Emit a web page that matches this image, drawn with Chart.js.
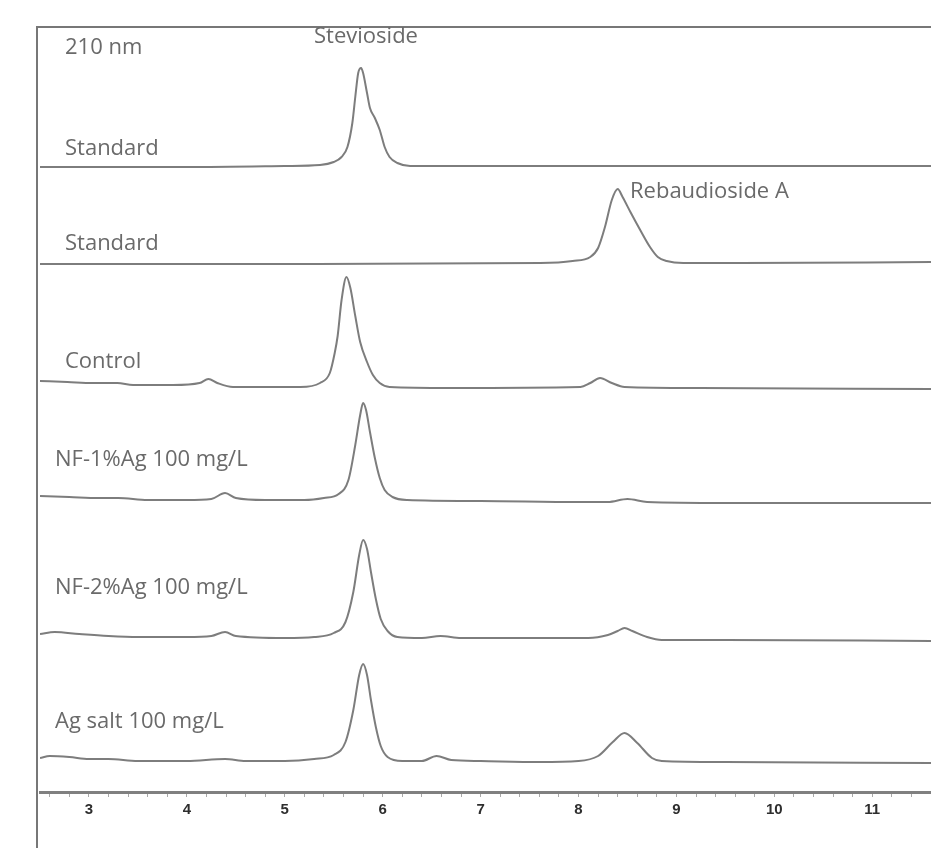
<!DOCTYPE html>
<html>
<head>
<meta charset="utf-8">
<script src="https://cdn.jsdelivr.net/npm/chart.js@4.4.1/dist/chart.umd.min.js"></script>
<style>
  html, body { margin: 0; padding: 0; background: #fff; }
  #wrap { width: 931px; height: 848px; position: relative; }
</style>
</head>
<body>
<div id="wrap"><canvas id="hplc"></canvas></div>
<script>
// HPLC traces at 210 nm, retention time in min, signal stacked by offsets

const traceNames = ["Standard", "Standard", "Control", "NF-1%Ag 100 mg/L", "NF-2%Ag 100 mg/L", "Ag salt 100 mg/L"];
const traceOffsets = [625, 528, 404, 292, 155, 32];

const steviosideTime = [2.5, 4.0, 5.0, 5.36, 5.5, 5.58, 5.64, 5.69, 5.72, 5.75, 5.78, 5.80, 5.84, 5.87, 5.92, 5.97, 6.02, 6.07, 6.15, 6.28, 6.5, 8.0, 11.6];
const steviosideSignal = [0, 0, 1, 2, 5, 10, 20, 44, 70, 94, 99, 94, 74, 59, 49, 37, 20, 10, 4, 1, 1, 1, 1];

const rebATime = [2.5, 5.0, 7.61, 7.94, 8.12, 8.20, 8.27, 8.34, 8.40, 8.45, 8.53, 8.63, 8.73, 8.81, 8.90, 9.07, 9.65, 11.6];
const rebASignal = [0, 0, 1, 3, 7, 16, 37, 64, 75, 67, 52, 34, 17, 7, 3, 1, 1, 2];

const controlTime = [2.5, 2.78, 3.04, 3.29, 3.45, 3.86, 4.13, 4.22, 4.31, 4.47, 5.16, 5.36, 5.46, 5.51, 5.54, 5.58, 5.63, 5.67, 5.72, 5.77, 5.84, 5.90, 5.97, 6.07, 6.69, 8.02, 8.12, 8.22, 8.34, 8.47, 9.24, 11.6];
const controlSignal = [7, 6, 5, 5, 3, 3, 5, 9, 5, 1, 1, 5, 15, 35, 52, 88, 111, 100, 72, 46, 26, 13, 5, 1, 0, 1, 5, 10, 5, 1, 0, -1];

const nf1Time = [2.5, 2.8, 3.1, 3.3, 3.6, 4.0, 4.25, 4.39, 4.5, 4.8, 5.2, 5.4, 5.55, 5.65, 5.72, 5.77, 5.80, 5.83, 5.87, 5.92, 5.97, 6.02, 6.1, 6.25, 7.0, 8.0, 8.3, 8.5, 8.7, 9.5, 11.6];
const nf1Signal = [4, 3, 2, 2, 0, 0, 1, 7, 2, 0, 0, 2, 6, 20, 55, 85, 97, 90, 68, 42, 22, 10, 3, 0, -1, -2, -2, 1, -2, -3, -3];

const nf2Time = [2.5, 2.65, 2.9, 3.2, 3.5, 4.0, 4.25, 4.39, 4.5, 5.0, 5.3, 5.5, 5.62, 5.7, 5.76, 5.80, 5.84, 5.88, 5.93, 5.98, 6.05, 6.15, 6.4, 6.59, 6.8, 7.5, 8.1, 8.3, 8.4, 8.47, 8.55, 8.7, 8.85, 9.5, 11.6];
const nf2Signal = [3, 5, 3, 1, 0, 0, 1, 5, 1, -1, 0, 4, 15, 45, 82, 97, 88, 65, 38, 18, 6, 0, -1, 1, -1, -1, -1, 2, 6, 9, 6, 0, -3, -3, -4];

const agSaltTime = [2.5, 2.6, 2.8, 3.0, 3.2, 3.5, 4.0, 4.39, 4.6, 5.0, 5.3, 5.5, 5.62, 5.7, 5.76, 5.80, 5.84, 5.88, 5.93, 5.98, 6.05, 6.2, 6.4, 6.55, 6.7, 7.0, 7.6, 8.0, 8.2, 8.35, 8.47, 8.6, 8.75, 8.85, 9.5, 11.6];
const agSaltSignal = [2, 4, 3, 1, 1, -1, -1, 1, -1, -1, 1, 5, 18, 50, 85, 96, 85, 60, 33, 14, 3, -1, -1, 4, 0, -1, -2, -1, 4, 18, 27, 17, 2, -1, -2, -3];

const traceTimes = [steviosideTime, rebATime, controlTime, nf1Time, nf2Time, agSaltTime];
const traceSignals = [steviosideSignal, rebASignal, controlSignal, nf1Signal, nf2Signal, agSaltSignal];

const xTicksMajor = [3, 4, 5, 6, 7, 8, 9, 10, 11];

const lineColor = "#7d7d7d";
const textColor = "#6a6a6a";

const datasets = traceSignals.map((sig, i) => ({
  label: traceNames[i],
  data: sig.map((v, k) => ({ x: traceTimes[i][k], y: v + traceOffsets[i] })),
  borderColor: lineColor,
  borderWidth: 2,
  pointRadius: 0,
  fill: false,
  cubicInterpolationMode: "monotone"
}));

// text labels placed in pixel layout
const annotations = [
  { text: "210 nm", x: 65, y: 48, align: "left" },
  { text: "Stevioside", x: 366, y: 37, align: "center" },
  { text: "Standard", x: 65, y: 149, align: "left" },
  { text: "Rebaudioside A", x: 630, y: 192, align: "left" },
  { text: "Standard", x: 65, y: 244, align: "left" },
  { text: "Control", x: 65, y: 362, align: "left" },
  { text: "NF-1%Ag 100 mg/L", x: 55, y: 460, align: "left" },
  { text: "NF-2%Ag 100 mg/L", x: 55, y: 588, align: "left" },
  { text: "Ag salt 100 mg/L", x: 55, y: 722, align: "left" }
];

const framePlugin = {
  id: "frame",
  afterDraw(chart) {
    const ctx = chart.ctx;
    ctx.save();
    ctx.strokeStyle = "#777";
    ctx.lineWidth = 2;
    ctx.beginPath();
    ctx.moveTo(37, 848);
    ctx.lineTo(37, 27);
    ctx.lineTo(931, 27);
    ctx.stroke();

    ctx.fillStyle = textColor;
    ctx.font = "22px 'Open Sans', sans-serif";
    ctx.textBaseline = "middle";
    annotations.forEach((a) => {
      ctx.textAlign = a.align;
      ctx.fillText(a.text, a.x, a.y);
    });
    ctx.restore();
  }
};

new Chart(document.getElementById("hplc"), {
  type: "line",
  data: { datasets },
  options: {
    responsive: true,
    maintainAspectRatio: false,
    animation: false,
    layout: { padding: { left: 40, right: 0, top: 27, bottom: 0 } },
    plugins: { legend: { display: false }, tooltip: { enabled: false } },
    scales: {
      x: {
        type: "linear",
        min: 2.5,
        max: 11.6,
        afterFit: (scale) => { scale.height = 56; },
        border: { display: true, color: "#808080", width: 3 },
        grid: { display: true, drawOnChartArea: false, drawTicks: true, tickLength: 5, color: "#a8a8a8", lineWidth: 1 },
        ticks: {
          stepSize: 0.2,
          includeBounds: false,
          autoSkip: false,
          maxRotation: 0,
          padding: 4,
          color: "#2e2e2e",
          font: { family: "'Liberation Sans', Arial, sans-serif", size: 15, weight: "bold" },
          callback: (v) => {
            const r = Math.round(v);
            return Math.abs(v - r) < 1e-6 && xTicksMajor.includes(r) ? String(r) : "";
          }
        }
      },
      y: {
        display: false,
        min: 0,
        max: 765
      }
    }
  },
  plugins: [framePlugin]
});
</script>
</body>
</html>
